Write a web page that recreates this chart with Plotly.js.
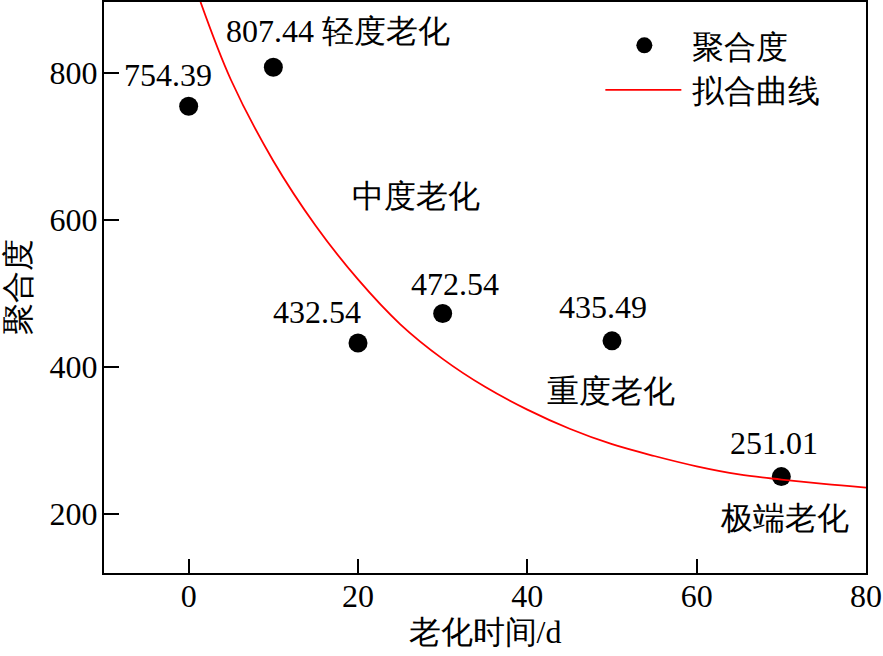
<!DOCTYPE html>
<html><head><meta charset="utf-8">
<script src="https://cdn.plot.ly/plotly-3.0.1.min.js"></script>
<style>html,body{margin:0;padding:0;background:#fff}#chart{width:883px;height:656px}</style>
</head><body><div id="chart"></div>
<script>
// measured data
const agingDays = [0, 10, 20, 30, 50, 70];
const dpValues = [754.39, 807.44, 432.54, 472.54, 435.49, 251.01];
// fitted curve
const fitX = [1.4, 5, 10, 15, 20, 25, 30, 35, 40, 45, 50, 55, 60, 65, 70, 75, 80];
const fitY = [896, 790, 680, 592, 519, 458, 411, 373, 342, 316, 295, 279, 265, 254, 247, 241, 236];
const xTicks = [0, 20, 40, 60, 80];
const yTicks = [200, 400, 600, 800];
const stageLabels = ['轻度老化', '中度老化', '重度老化', '极端老化'];
const seriesNames = ['聚合度', '拟合曲线'];

const FONT = "Liberation Serif";
const FS = 32;

const traces = [
  {x: agingDays, y: dpValues, type: 'scatter', mode: 'markers', name: seriesNames[0],
   marker: {color: '#000', size: 19}},
  {x: fitX, y: fitY, type: 'scatter', mode: 'lines', name: seriesNames[1],
   line: {color: '#ff0000', width: 1.8, shape: 'spline'}}
];

// label placement (layout only)
const valueLabelPos = [[-2.5, 797], null, [15.2, 475], [31.4, 513], [48.9, 481], [69.1, 297]];
const annotations = [];
dpValues.forEach((v, i) => {
  if (valueLabelPos[i]) {
    annotations.push({x: valueLabelPos[i][0], y: valueLabelPos[i][1], xref: 'x', yref: 'y',
      text: v.toFixed(2), showarrow: false, font: {family: FONT, size: FS, color: '#000'}});
  }
});
annotations.push({x: 17.6, y: 857, xref: 'x', yref: 'y', text: dpValues[1].toFixed(2) + ' ' + stageLabels[0],
  showarrow: false, font: {family: FONT, size: FS, color: '#000'}});
const stagePos = [null, [26.9, 632], [49.9, 368], [70.4, 195]];
stageLabels.forEach((s, i) => {
  if (stagePos[i]) annotations.push({x: stagePos[i][0], y: stagePos[i][1], xref: 'x', yref: 'y',
    text: s, showarrow: false, font: {family: FONT, size: FS, color: '#000'}});
});

const layout = {
  width: 883, height: 656,
  margin: {l: 104, r: 17, t: 2, b: 83},
  paper_bgcolor: '#fff', plot_bgcolor: '#fff',
  font: {family: FONT, size: FS, color: '#000'},
  showlegend: true,
  legend: {x: 0.654, y: 0.972, xanchor: 'left', yanchor: 'top', bgcolor: 'rgba(0,0,0,0)',
    font: {family: FONT, size: FS, color: '#000'}, itemwidth: 80, tracegroupgap: 0},
  xaxis: {range: [-10, 80], tickvals: xTicks, ticktext: xTicks.map(String),
    ticks: 'inside', ticklen: 14, tickwidth: 2, tickcolor: '#000',
    showline: true, linewidth: 2, linecolor: '#000', mirror: true,
    showgrid: false, zeroline: false, ticklabelstandoff: -6,
    tickfont: {family: FONT, size: FS},
    title: {text: '老化时间/d', font: {family: FONT, size: FS}, standoff: 7}},
  yaxis: {range: [120, 896], tickvals: yTicks, ticktext: yTicks.map(String),
    ticks: 'inside', ticklen: 15, tickwidth: 2, tickcolor: '#000',
    showline: true, linewidth: 2, linecolor: '#000', mirror: true,
    showgrid: false, zeroline: false, ticklabelstandoff: -2,
    tickfont: {family: FONT, size: FS},
    title: {text: '聚合度', font: {family: FONT, size: FS}, standoff: 10}},
  annotations: annotations
};

Plotly.newPlot('chart', traces, layout, {staticPlot: true, displayModeBar: false}).then(gd => {
  gd.querySelectorAll('.legend .legendlines path').forEach(p => p.setAttribute('d', 'M3,0h76'));
  gd.querySelectorAll('.legend .legendpoints path').forEach(p => p.setAttribute('transform', 'translate(42,0)'));
});
</script>
</body></html>
